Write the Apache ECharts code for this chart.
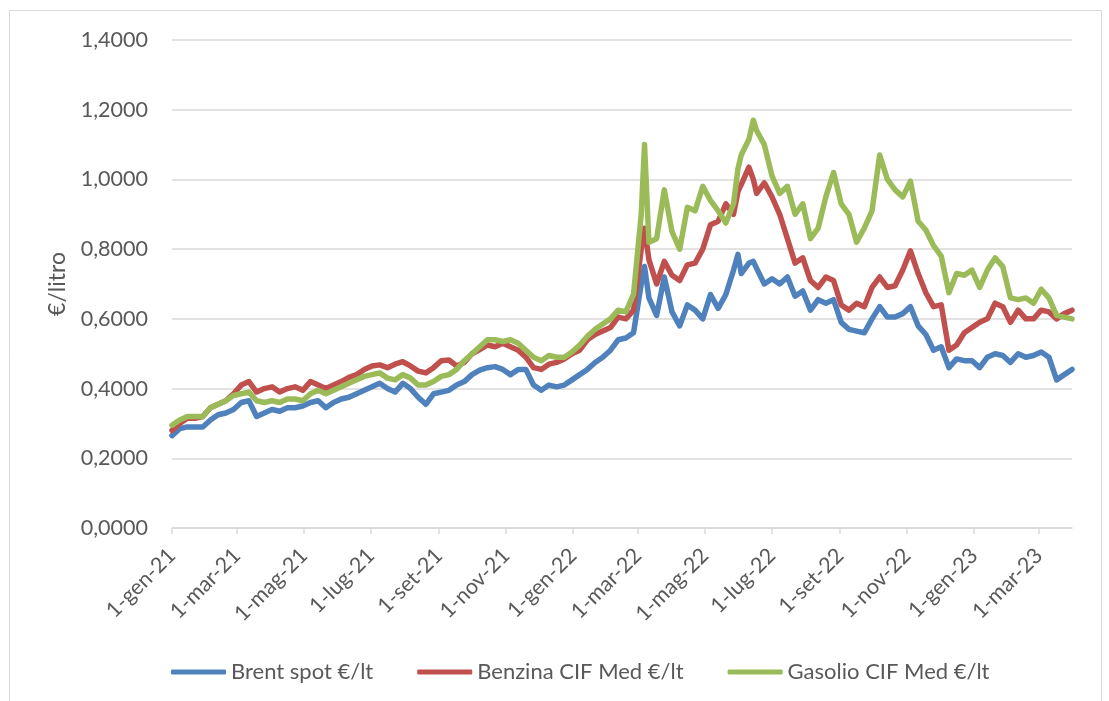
<!DOCTYPE html>
<html>
<head>
<meta charset="utf-8">
<script src="https://cdn.jsdelivr.net/npm/echarts@6/dist/echarts.min.js"></script>
<style>
  html, body { margin: 0; padding: 0; background: #fff; }
  #chart { width: 1109px; height: 701px; }
</style>
</head>
<body>
<div id="chart"></div>
<script>
// Prezzi settimanali (€/litro)
const dates = [
  '2021-01-01', '2021-01-08', '2021-01-15', '2021-01-22', '2021-01-29', '2021-02-05', '2021-02-12', '2021-02-19', '2021-02-26',
  '2021-03-05', '2021-03-12', '2021-03-19', '2021-03-26', '2021-04-02', '2021-04-09', '2021-04-16', '2021-04-23', '2021-04-30',
  '2021-05-07', '2021-05-14', '2021-05-21', '2021-05-28', '2021-06-04', '2021-06-11', '2021-06-18', '2021-06-25',
  '2021-07-02', '2021-07-09', '2021-07-16', '2021-07-23', '2021-07-30', '2021-08-06', '2021-08-13', '2021-08-20', '2021-08-27',
  '2021-09-03', '2021-09-10', '2021-09-17', '2021-09-24', '2021-10-01', '2021-10-08', '2021-10-15', '2021-10-22', '2021-10-29',
  '2021-11-05', '2021-11-12', '2021-11-19', '2021-11-26', '2021-12-03', '2021-12-10', '2021-12-17', '2021-12-24', '2021-12-31',
  '2022-01-07', '2022-01-14', '2022-01-21', '2022-01-28', '2022-02-04', '2022-02-11', '2022-02-18', '2022-02-25',
  '2022-03-04', '2022-03-07', '2022-03-11', '2022-03-18', '2022-03-25', '2022-04-01', '2022-04-08', '2022-04-15', '2022-04-22', '2022-04-29',
  '2022-05-06', '2022-05-13', '2022-05-20', '2022-05-27', '2022-05-31', '2022-06-03', '2022-06-10', '2022-06-14', '2022-06-17', '2022-06-24',
  '2022-07-01', '2022-07-08', '2022-07-15', '2022-07-22', '2022-07-29', '2022-08-05', '2022-08-12', '2022-08-19', '2022-08-26',
  '2022-09-02', '2022-09-09', '2022-09-16', '2022-09-23', '2022-09-30', '2022-10-07', '2022-10-14', '2022-10-21', '2022-10-28',
  '2022-11-04', '2022-11-11', '2022-11-18', '2022-11-25', '2022-12-02', '2022-12-09', '2022-12-16', '2022-12-23', '2022-12-30',
  '2023-01-06', '2023-01-13', '2023-01-20', '2023-01-27', '2023-02-03', '2023-02-10', '2023-02-17', '2023-02-24',
  '2023-03-03', '2023-03-10', '2023-03-17', '2023-03-24', '2023-03-31'
];

const brent = [
  0.265, 0.285, 0.29, 0.29, 0.29, 0.31, 0.325, 0.33, 0.34,
  0.36, 0.365, 0.32, 0.33, 0.34, 0.335, 0.345, 0.345, 0.35,
  0.36, 0.365, 0.345, 0.36, 0.37, 0.375, 0.385, 0.395,
  0.405, 0.415, 0.40, 0.39, 0.415, 0.40, 0.375, 0.355, 0.385,
  0.39, 0.395, 0.41, 0.42, 0.44, 0.453, 0.46, 0.463, 0.455,
  0.44, 0.455, 0.455, 0.41, 0.395, 0.41, 0.405, 0.41, 0.425,
  0.44, 0.455, 0.475, 0.49, 0.51, 0.54, 0.545, 0.56,
  0.70, 0.75, 0.66, 0.61, 0.72, 0.62, 0.58, 0.64, 0.625, 0.60,
  0.67, 0.63, 0.67, 0.74, 0.785, 0.73, 0.76, 0.765, 0.745, 0.70,
  0.715, 0.70, 0.72, 0.665, 0.68, 0.625, 0.655, 0.645, 0.655,
  0.59, 0.57, 0.565, 0.56, 0.60, 0.635, 0.605, 0.605, 0.615,
  0.635, 0.58, 0.555, 0.51, 0.52, 0.46, 0.485, 0.48, 0.48,
  0.46, 0.49, 0.50, 0.495, 0.475, 0.50, 0.49, 0.495,
  0.505, 0.49, 0.425, 0.44, 0.455
];

const benzina = [
  0.28, 0.30, 0.315, 0.315, 0.32, 0.345, 0.355, 0.365, 0.385,
  0.41, 0.42, 0.39, 0.40, 0.405, 0.39, 0.40, 0.405, 0.395,
  0.42, 0.41, 0.40, 0.41, 0.42, 0.432, 0.44, 0.455,
  0.465, 0.468, 0.46, 0.47, 0.477, 0.465, 0.45, 0.445, 0.46,
  0.48, 0.482, 0.465, 0.475, 0.50, 0.512, 0.525, 0.52, 0.53,
  0.52, 0.51, 0.49, 0.46, 0.455, 0.47, 0.475, 0.485, 0.50,
  0.51, 0.54, 0.555, 0.565, 0.575, 0.605, 0.60, 0.625,
  0.80, 0.86, 0.77, 0.70, 0.765, 0.725, 0.71, 0.755, 0.76, 0.80,
  0.87, 0.88, 0.93, 0.90, 0.965, 0.985, 1.035, 1.00, 0.96, 0.99,
  0.95, 0.90, 0.83, 0.76, 0.775, 0.71, 0.69, 0.72, 0.71,
  0.64, 0.625, 0.645, 0.635, 0.69, 0.72, 0.69, 0.695, 0.74,
  0.795, 0.73, 0.675, 0.635, 0.64, 0.51, 0.525, 0.56, 0.575,
  0.59, 0.60, 0.645, 0.635, 0.59, 0.625, 0.60, 0.60,
  0.625, 0.62, 0.60, 0.615, 0.625
];

const gasolio = [
  0.295, 0.31, 0.32, 0.32, 0.32, 0.345, 0.355, 0.365, 0.38,
  0.385, 0.39, 0.365, 0.36, 0.365, 0.36, 0.37, 0.37, 0.365,
  0.385, 0.395, 0.385, 0.395, 0.405, 0.415, 0.425, 0.435,
  0.44, 0.445, 0.43, 0.425, 0.44, 0.43, 0.41, 0.41, 0.42,
  0.435, 0.44, 0.455, 0.48, 0.50, 0.52, 0.54, 0.54, 0.535,
  0.54, 0.53, 0.51, 0.49, 0.48, 0.495, 0.49, 0.49, 0.505,
  0.525, 0.55, 0.57, 0.585, 0.60, 0.625, 0.62, 0.67,
  0.90, 1.10, 0.82, 0.83, 0.97, 0.85, 0.80, 0.92, 0.91, 0.98,
  0.94, 0.91, 0.875, 0.93, 1.03, 1.07, 1.115, 1.17, 1.14, 1.10,
  1.01, 0.96, 0.98, 0.90, 0.93, 0.83, 0.86, 0.95, 1.02,
  0.93, 0.90, 0.82, 0.86, 0.91, 1.07, 1.00, 0.97, 0.95,
  0.995, 0.88, 0.855, 0.81, 0.78, 0.675, 0.73, 0.725, 0.74,
  0.69, 0.74, 0.775, 0.75, 0.66, 0.655, 0.66, 0.645,
  0.685, 0.66, 0.61, 0.605, 0.60
];

const seriesNames = ['Brent spot €/lt', 'Benzina CIF Med €/lt', 'Gasolio CIF Med €/lt'];
const seriesColors = ['#4F81BD', '#C0504D', '#9BBB59'];
const monthNames = ['gen', 'feb', 'mar', 'apr', 'mag', 'giu', 'lug', 'ago', 'set', 'ott', 'nov', 'dic'];

// Asse per giorni di calendario, come l'asse data di Excel
const days = [];
for (let t = Date.UTC(2021, 0, 1); t <= Date.UTC(2023, 2, 31); t += 86400000) {
    days.push(new Date(t).toISOString().slice(0, 10));
}

// Etichetta ogni due mesi, il primo del mese
function isTick(index, value) {
    const month = parseInt(value.slice(5, 7), 10);
    return value.slice(8) === '01' && month % 2 === 1;
}

function formatDay(value) {
    const month = parseInt(value.slice(5, 7), 10);
    return '1-' + monthNames[month - 1] + '-' + value.slice(2, 4);
}

const font = 'Lato, "Open Sans", sans-serif';

const chart = echarts.init(document.getElementById('chart'));

const option = {
    animation: false,
    textStyle: { fontFamily: font },
    grid: { left: 172, right: 37, top: 40, bottom: 173, containLabel: false },
    graphic: [{
        type: 'rect',
        shape: { x: 9.5, y: 10.5, width: 1092, height: 700 },
        style: { fill: 'none', stroke: '#d9d9d9', lineWidth: 1 }
    }],
    legend: {
        left: 166,
        top: 656,
        itemWidth: 55,
        itemHeight: 5,
        itemGap: 44,
        icon: 'roundRect',
        data: seriesNames,
        textStyle: { color: '#595959', fontSize: 22, fontFamily: font }
    },
    xAxis: {
        type: 'category',
        data: days,
        boundaryGap: false,
        axisLine: { lineStyle: { color: '#d9d9d9', width: 1.5 } },
        axisTick: { interval: isTick, length: 6, lineStyle: { color: '#d9d9d9', width: 1.5 } },
        axisLabel: {
            interval: isTick,
            rotate: 45,
            margin: 24,
            color: '#595959',
            fontSize: 21.5,
            fontFamily: font,
            formatter: formatDay
        },
        splitLine: { show: false }
    },
    yAxis: {
        type: 'value',
        min: 0,
        max: 1.4,
        interval: 0.2,
        name: '€/litro',
        nameLocation: 'middle',
        nameGap: 103,
        nameTextStyle: { color: '#595959', fontSize: 23, fontFamily: font },
        axisLine: { show: false },
        axisTick: { show: false },
        axisLabel: {
            margin: 24,
            color: '#595959',
            fontSize: 21.5,
            fontFamily: font,
            formatter: v => v.toFixed(4).replace('.', ',')
        },
        splitLine: { lineStyle: { color: '#d9d9d9', width: 1.5 } }
    },
    series: [brent, benzina, gasolio].map((values, k) => ({
        name: seriesNames[k],
        type: 'line',
        showSymbol: false,
        symbol: 'none',
        color: seriesColors[k],
        lineStyle: { width: 5.5, color: seriesColors[k], join: 'round', cap: 'round' },
        data: dates.map((d, i) => [d, values[i]])
    }))
};

chart.setOption(option);
</script>
</body>
</html>
